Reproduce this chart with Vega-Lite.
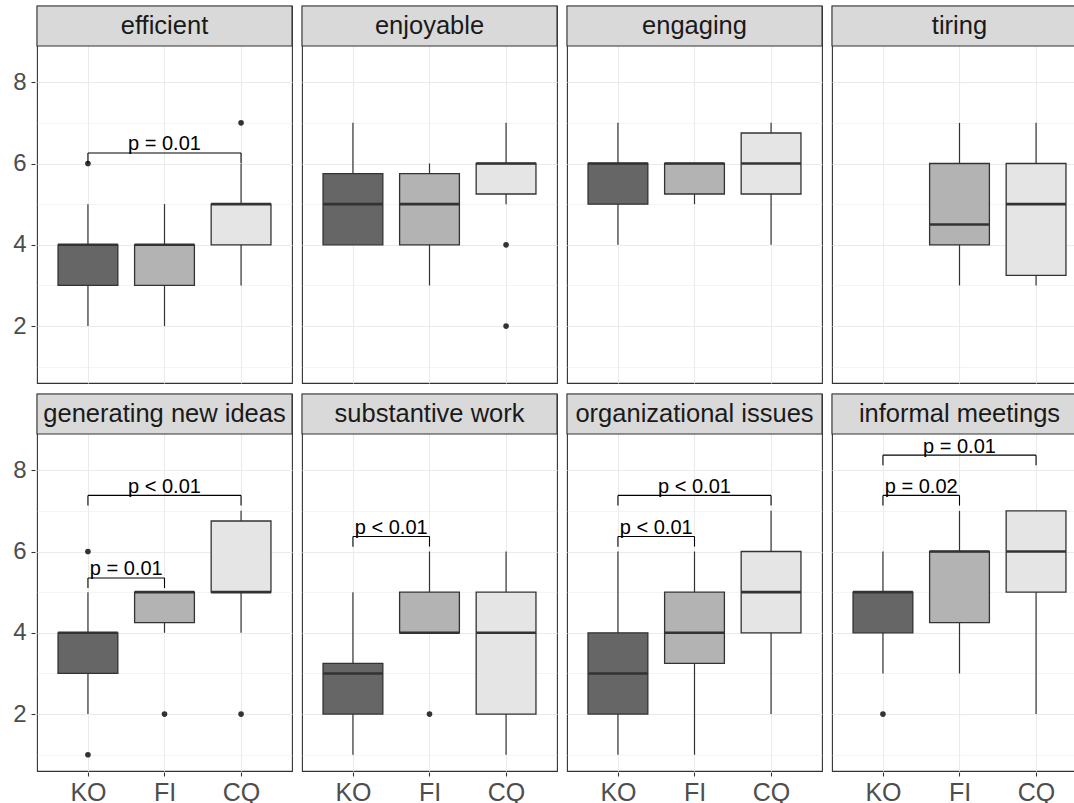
{
  "$schema": "https://vega.github.io/schema/vega-lite/v6.json",
  "padding": {"left": 12, "top": 4, "right": 0, "bottom": 0},
  "background": "white",
  "data": {"values": [
    {"kind": "box", "panel": "efficient", "g": "KO", "lo": 2, "q1": 3, "med": 4, "q3": 4, "hi": 5},
    {"kind": "box", "panel": "efficient", "g": "FI", "lo": 2, "q1": 3, "med": 4, "q3": 4, "hi": 5},
    {"kind": "box", "panel": "efficient", "g": "CQ", "lo": 3, "q1": 4, "med": 5, "q3": 5, "hi": 6},
    {"kind": "box", "panel": "enjoyable", "g": "KO", "lo": 4, "q1": 4, "med": 5, "q3": 5.75, "hi": 7},
    {"kind": "box", "panel": "enjoyable", "g": "FI", "lo": 3, "q1": 4, "med": 5, "q3": 5.75, "hi": 6},
    {"kind": "box", "panel": "enjoyable", "g": "CQ", "lo": 5, "q1": 5.25, "med": 6, "q3": 6, "hi": 7},
    {"kind": "box", "panel": "engaging", "g": "KO", "lo": 4, "q1": 5, "med": 6, "q3": 6, "hi": 7},
    {"kind": "box", "panel": "engaging", "g": "FI", "lo": 5, "q1": 5.25, "med": 6, "q3": 6, "hi": 6},
    {"kind": "box", "panel": "engaging", "g": "CQ", "lo": 4, "q1": 5.25, "med": 6, "q3": 6.75, "hi": 7},
    {"kind": "box", "panel": "tiring", "g": "FI", "lo": 3, "q1": 4, "med": 4.5, "q3": 6, "hi": 7},
    {"kind": "box", "panel": "tiring", "g": "CQ", "lo": 3, "q1": 3.25, "med": 5, "q3": 6, "hi": 7},
    {"kind": "box", "panel": "generating new ideas", "g": "KO", "lo": 2, "q1": 3, "med": 4, "q3": 4, "hi": 5},
    {"kind": "box", "panel": "generating new ideas", "g": "FI", "lo": 4, "q1": 4.25, "med": 5, "q3": 5, "hi": 5},
    {"kind": "box", "panel": "generating new ideas", "g": "CQ", "lo": 4, "q1": 5, "med": 5, "q3": 6.75, "hi": 7},
    {"kind": "box", "panel": "substantive work", "g": "KO", "lo": 1, "q1": 2, "med": 3, "q3": 3.25, "hi": 5},
    {"kind": "box", "panel": "substantive work", "g": "FI", "lo": 4, "q1": 4, "med": 4, "q3": 5, "hi": 6},
    {"kind": "box", "panel": "substantive work", "g": "CQ", "lo": 1, "q1": 2, "med": 4, "q3": 5, "hi": 6},
    {"kind": "box", "panel": "organizational issues", "g": "KO", "lo": 1, "q1": 2, "med": 3, "q3": 4, "hi": 6},
    {"kind": "box", "panel": "organizational issues", "g": "FI", "lo": 1, "q1": 3.25, "med": 4, "q3": 5, "hi": 6},
    {"kind": "box", "panel": "organizational issues", "g": "CQ", "lo": 2, "q1": 4, "med": 5, "q3": 6, "hi": 7},
    {"kind": "box", "panel": "informal meetings", "g": "KO", "lo": 3, "q1": 4, "med": 5, "q3": 5, "hi": 6},
    {"kind": "box", "panel": "informal meetings", "g": "FI", "lo": 3, "q1": 4.25, "med": 6, "q3": 6, "hi": 7},
    {"kind": "box", "panel": "informal meetings", "g": "CQ", "lo": 2, "q1": 5, "med": 6, "q3": 7, "hi": 7},
    {"kind": "out", "panel": "efficient", "g": "KO", "v": 6},
    {"kind": "out", "panel": "efficient", "g": "CQ", "v": 7},
    {"kind": "out", "panel": "enjoyable", "g": "CQ", "v": 4},
    {"kind": "out", "panel": "enjoyable", "g": "CQ", "v": 2},
    {"kind": "out", "panel": "generating new ideas", "g": "KO", "v": 6},
    {"kind": "out", "panel": "generating new ideas", "g": "KO", "v": 1},
    {"kind": "out", "panel": "generating new ideas", "g": "FI", "v": 2},
    {"kind": "out", "panel": "generating new ideas", "g": "CQ", "v": 2},
    {"kind": "out", "panel": "substantive work", "g": "FI", "v": 2},
    {"kind": "out", "panel": "informal meetings", "g": "KO", "v": 2},
    {"kind": "sig", "panel": "efficient", "g": "KO", "g2": "CQ", "y": 6.26, "tip": 6.01, "label": "p = 0.01"},
    {"kind": "sig", "panel": "generating new ideas", "g": "KO", "g2": "CQ", "y": 7.38, "tip": 7.13, "label": "p < 0.01"},
    {"kind": "sig", "panel": "generating new ideas", "g": "KO", "g2": "FI", "y": 5.35, "tip": 5.1, "label": "p = 0.01"},
    {"kind": "sig", "panel": "substantive work", "g": "KO", "g2": "FI", "y": 6.37, "tip": 6.12, "label": "p < 0.01"},
    {"kind": "sig", "panel": "organizational issues", "g": "KO", "g2": "FI", "y": 6.37, "tip": 6.12, "label": "p < 0.01"},
    {"kind": "sig", "panel": "organizational issues", "g": "KO", "g2": "CQ", "y": 7.38, "tip": 7.13, "label": "p < 0.01"},
    {"kind": "sig", "panel": "informal meetings", "g": "KO", "g2": "FI", "y": 7.38, "tip": 7.13, "label": "p = 0.02"},
    {"kind": "sig", "panel": "informal meetings", "g": "KO", "g2": "CQ", "y": 8.37, "tip": 8.12, "label": "p = 0.01"}
  ]},
  "transform": [
    {"calculate": "indexof(['KO','FI','CQ'], datum.g) + 1", "as": "i"},
    {"calculate": "indexof(['KO','FI','CQ'], datum.g2) + 1", "as": "i2"},
    {"calculate": "(datum.i + datum.i2) / 2", "as": "mid"}
  ],
  "facet": {
    "field": "panel", "type": "nominal",
    "header": {"title": null, "labels": false, "labelFontSize": 0, "labelPadding": 0},
    "sort": ["efficient", "enjoyable", "engaging", "tiring", "generating new ideas", "substantive work", "organizational issues", "informal meetings"]
  },
  "columns": 4,
  "spacing": {"row": 8, "column": 6},
  "spec": {
    "width": 255,
    "height": 377,
    "layer": [
      {
        "transform": [{"filter": "datum.kind == 'box'"}],
        "mark": {"type": "rule", "color": "#333333", "strokeWidth": 1.2},
        "encoding": {
          "x": {"field": "i", "type": "quantitative", "title": null,
                "scale": {"domain": [0.4, 3.6], "nice": false, "zero": false},
                "axis": {"values": [1, 2, 3], "labelExpr": "['', 'KO', 'FI', 'CQ'][datum.value]", "gridWidth": 1.1, "labelFontSize": 25, "labelPadding": 4, "labelFlush": false}},
          "y": {"field": "lo", "type": "quantitative", "title": null,
                "scale": {"domain": [0.6, 9.875], "nice": false, "zero": false},
                "axis": {
                  "values": [1, 2, 3, 4, 5, 6, 7, 8],
                  "labelExpr": "datum.value % 2 == 0 ? datum.label : ''",
                  "labelPadding": 5,
                  "tickOpacity": {"condition": {"test": "datum.value % 2 == 0", "value": 1}, "value": 0},
                  "gridWidth": {"condition": {"test": "datum.value % 2 == 0", "value": 1.1}, "value": 0.55}
                }},
          "y2": {"field": "hi"}
        }
      },
      {
        "transform": [{"filter": "datum.kind == 'box'"}],
        "mark": {"type": "bar", "stroke": "#333333", "strokeWidth": 1.3, "width": 59.8},
        "encoding": {
          "x": {"field": "i", "type": "quantitative", "title": null},
          "y": {"field": "q1", "type": "quantitative", "title": null},
          "y2": {"field": "q3"},
          "fill": {"field": "g", "type": "nominal", "legend": null,
                   "scale": {"domain": ["KO", "FI", "CQ"], "range": ["#666666", "#b3b3b3", "#e5e5e5"]}}
        }
      },
      {
        "transform": [{"filter": "datum.kind == 'box'"}],
        "mark": {"type": "tick", "color": "#333333", "thickness": 2.6, "size": 59.8, "opacity": 1, "orient": "horizontal"},
        "encoding": {
          "x": {"field": "i", "type": "quantitative", "title": null},
          "y": {"field": "med", "type": "quantitative", "title": null}
        }
      },
      {
        "transform": [{"filter": "datum.kind == 'out'"}],
        "mark": {"type": "circle", "color": "#333333", "size": 32, "opacity": 1},
        "encoding": {
          "x": {"field": "i", "type": "quantitative", "title": null},
          "y": {"field": "v", "type": "quantitative", "title": null}
        }
      },
      {
        "transform": [{"filter": "datum.kind == 'sig'"}],
        "mark": {"type": "rule", "color": "black", "strokeWidth": 1.1},
        "encoding": {
          "x": {"field": "i", "type": "quantitative", "title": null},
          "x2": {"field": "i2"},
          "y": {"field": "y", "type": "quantitative", "title": null}
        }
      },
      {
        "transform": [{"filter": "datum.kind == 'sig'"}],
        "mark": {"type": "rule", "color": "black", "strokeWidth": 1.1},
        "encoding": {
          "x": {"field": "i", "type": "quantitative", "title": null},
          "y": {"field": "y", "type": "quantitative", "title": null},
          "y2": {"field": "tip"}
        }
      },
      {
        "transform": [{"filter": "datum.kind == 'sig'"}],
        "mark": {"type": "rule", "color": "black", "strokeWidth": 1.1},
        "encoding": {
          "x": {"field": "i2", "type": "quantitative", "title": null},
          "y": {"field": "y", "type": "quantitative", "title": null},
          "y2": {"field": "tip"}
        }
      },
      {
        "transform": [{"filter": "datum.kind == 'sig'"}],
        "mark": {"type": "text", "fontSize": 20, "color": "black", "baseline": "alphabetic", "align": "center", "dy": -2.5},
        "encoding": {
          "x": {"field": "mid", "type": "quantitative", "title": null},
          "y": {"field": "y", "type": "quantitative", "title": null},
          "text": {"field": "label", "type": "nominal"}
        }
      },
      {
        "transform": [{"aggregate": [{"op": "count", "as": "n"}], "groupby": ["panel"]}],
        "mark": {"type": "rect", "fill": "#d9d9d9", "stroke": "#333333", "strokeWidth": 1.1},
        "encoding": {
          "y": {"datum": 8.89, "type": "quantitative", "title": null},
          "y2": {"datum": 9.875}
        }
      },
      {
        "transform": [{"aggregate": [{"op": "count", "as": "n"}], "groupby": ["panel"]}],
        "mark": {"type": "text", "fontSize": 25.5, "color": "#1a1a1a", "baseline": "middle", "align": "center"},
        "encoding": {
          "y": {"datum": 9.38, "type": "quantitative", "title": null},
          "text": {"field": "panel", "type": "nominal"}
        }
      }
    ]
  },
  "config": {
    "font": "Liberation Sans",
    "view": {"stroke": "#333333", "strokeWidth": 1.1, "fill": "white"},
    "header": {"labels": false, "title": null, "labelFontSize": 0, "labelPadding": 0},
    "headerFacet": {"labels": false, "labelFontSize": 0, "labelPadding": 0},
    "axis": {
      "domain": false,
      "grid": true,
      "gridColor": "#ebebeb",
      "tickColor": "#333333",
      "tickWidth": 1.1,
      "tickSize": 4,
      "labelPadding": 4,
      "labelFontSize": 24,
      "labelColor": "#4d4d4d",
      "labelFont": "Liberation Sans"
    },
    "axisX": {"labelAngle": 0}
  }
}
